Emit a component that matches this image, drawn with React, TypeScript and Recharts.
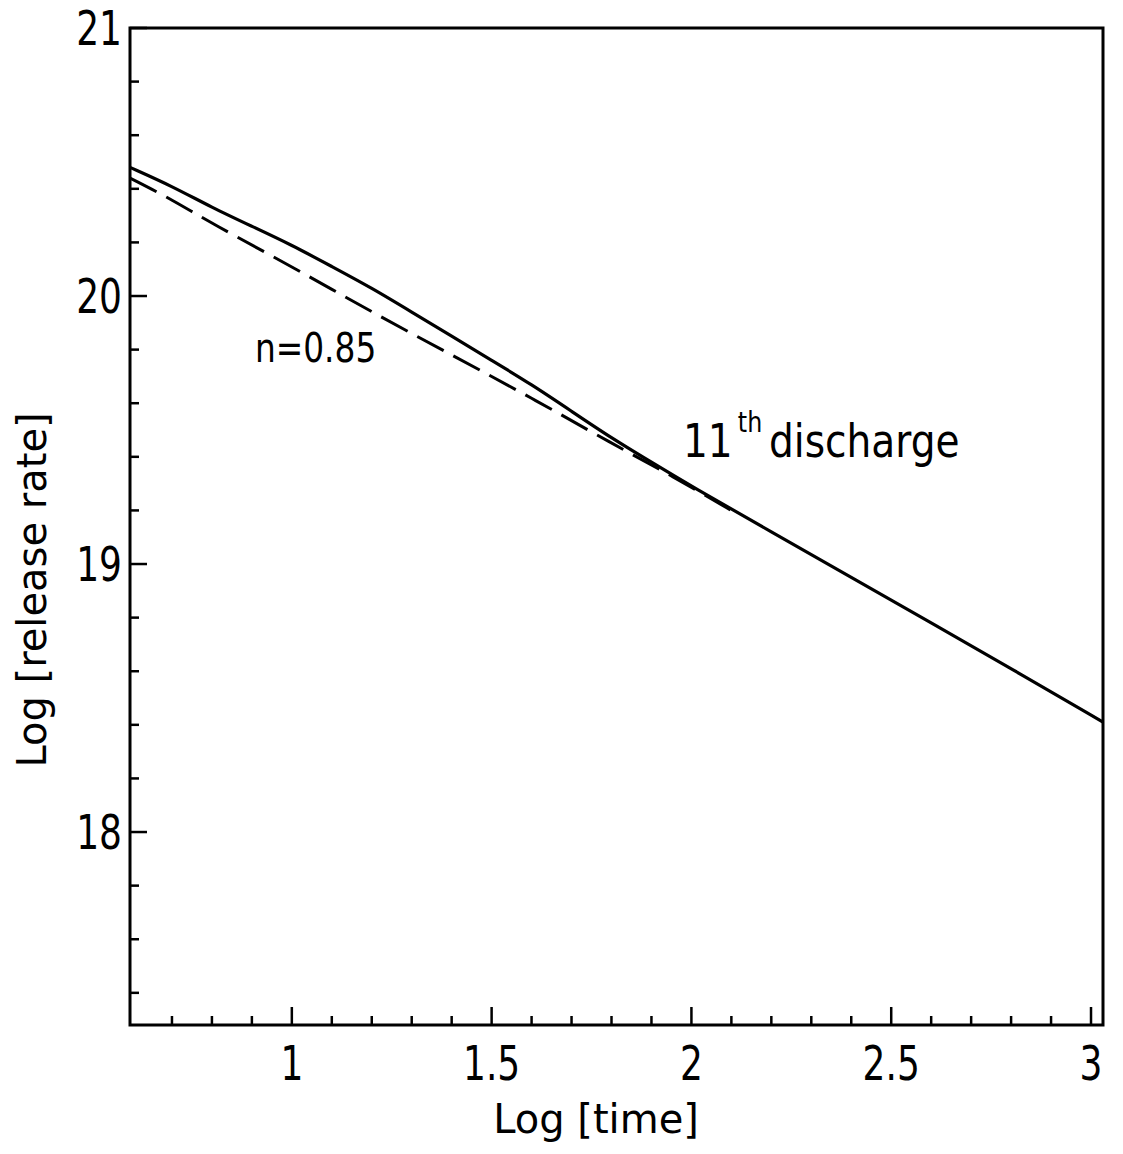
import React from "react";
import { LineChart, Line, XAxis, YAxis, ReferenceArea } from "recharts";

// Log [time] vs Log [release rate]
const timeSolid = [0.595, 0.7, 0.8, 0.9, 1.0, 1.1, 1.2, 1.3, 1.4, 1.5, 1.6, 1.7, 1.8, 1.9, 2.0, 2.2, 2.4, 2.6, 2.8, 3.03];
const rateSolid = [20.48, 20.41, 20.33, 20.26, 20.19, 20.11, 20.03, 19.94, 19.85, 19.76, 19.67, 19.57, 19.47, 19.38, 19.29, 19.12, 18.95, 18.78, 18.61, 18.41];

// power-law fit, n = 0.85
const timeDashed = [0.595, 0.7, 0.8, 1.0, 1.2, 1.4, 1.6, 1.8, 1.95, 2.1];
const rateDashed = [20.44, 20.36, 20.27, 20.11, 19.94, 19.78, 19.62, 19.45, 19.33, 19.2];

const xTicks = [0.7, 0.8, 0.9, 1, 1.1, 1.2, 1.3, 1.4, 1.5, 1.6, 1.7, 1.8, 1.9, 2, 2.1, 2.2, 2.3, 2.4, 2.5, 2.6, 2.7, 2.8, 2.9, 3];
const xLabels = [1, 1.5, 2, 2.5, 3];
const yTicks = [17.4, 17.6, 17.8, 18, 18.2, 18.4, 18.6, 18.8, 19, 19.2, 19.4, 19.6, 19.8, 20, 20.2, 20.4, 20.6, 20.8, 21];
const yLabels = [18, 19, 20, 21];

const solid = timeSolid.map((t, i) => ({ t, r: rateSolid[i] }));
const dashed = timeDashed.map((t, i) => ({ t, r: rateDashed[i] }));

const FONT = "'DejaVu Sans', sans-serif";

function XTick({ x, y, payload }: any) {
  const v = payload.value;
  const major = xLabels.includes(v);
  return (
    <g>
      <line x1={x} x2={x} y1={y} y2={y - (major ? 18 : 9)} stroke="#000" strokeWidth={2.5} />
      {major && (
        <text
          transform={`translate(${x} ${y + 55}) scale(0.75 1)`}
          textAnchor="middle"
          fontSize={48}
          fontFamily={FONT}
          fill="#000"
        >
          {v}
        </text>
      )}
    </g>
  );
}

function YTick({ x, y, payload }: any) {
  const v = payload.value;
  const major = yLabels.includes(v);
  return (
    <g>
      <line x1={x} x2={x + (major ? 17 : 9)} y1={y} y2={y} stroke="#000" strokeWidth={2.5} />
      {major && (
        <text
          transform={`translate(${x - 8} ${y + 17}) scale(0.75 1)`}
          textAnchor="end"
          fontSize={48}
          fontFamily={FONT}
          fill="#000"
        >
          {v}
        </text>
      )}
    </g>
  );
}

export default function App() {
  return (
    <div style={{ position: "absolute", left: 0, top: 0, width: 1123, height: 1154, background: "#fff" }}>
      <LineChart width={1123} height={1154} margin={{ top: 28, right: 20, bottom: 0, left: 0 }}>
        <XAxis
          dataKey="t"
          type="number"
          domain={[0.595, 3.03]}
          allowDataOverflow
          ticks={xTicks}
          interval={0}
          tickSize={0}
          tickMargin={0}
          tickLine={false}
          axisLine={false}
          height={129}
          tick={<XTick />}
        />
        <YAxis
          dataKey="r"
          type="number"
          domain={[17.28, 21]}
          allowDataOverflow
          ticks={yTicks}
          interval={0}
          tickSize={0}
          tickMargin={0}
          tickLine={false}
          axisLine={false}
          width={130}
          tick={<YTick />}
        />
        <ReferenceArea x1={0.595} x2={3.03} y1={17.28} y2={21} fill="none" stroke="#000" strokeWidth={3} />
        <Line
          data={dashed}
          dataKey="r"
          type="basis"
          stroke="#000"
          strokeWidth={3}
          strokeDasharray="30 11"
          dot={false}
          isAnimationActive={false}
        />
        <Line
          data={solid}
          dataKey="r"
          type="basis"
          stroke="#000"
          strokeWidth={3.2}
          dot={false}
          isAnimationActive={false}
        />
      </LineChart>
      <svg
        width={1123}
        height={1154}
        style={{ position: "absolute", left: 0, top: 0, pointerEvents: "none" }}
        fontFamily={FONT}
      >
        <text x={596} y={1133} textAnchor="middle" fontSize={40} fill="#000">
          Log [time]
        </text>
        <text transform="translate(46 590) rotate(-90)" textAnchor="middle" fontSize={40} fill="#000">
          Log [release rate]
        </text>
        <text transform="translate(255 362) scale(0.8 1)" fontSize={41} fill="#000">
          n=0.85
        </text>
        <text transform="translate(683 457) scale(0.85 1)" fontSize={46} fill="#000">
          11
          <tspan dx={6} dy={-25} fontSize={28}>
            th
          </tspan>
          <tspan dx={8} dy={25} fontSize={46}>
            discharge
          </tspan>
        </text>
      </svg>
    </div>
  );
}
